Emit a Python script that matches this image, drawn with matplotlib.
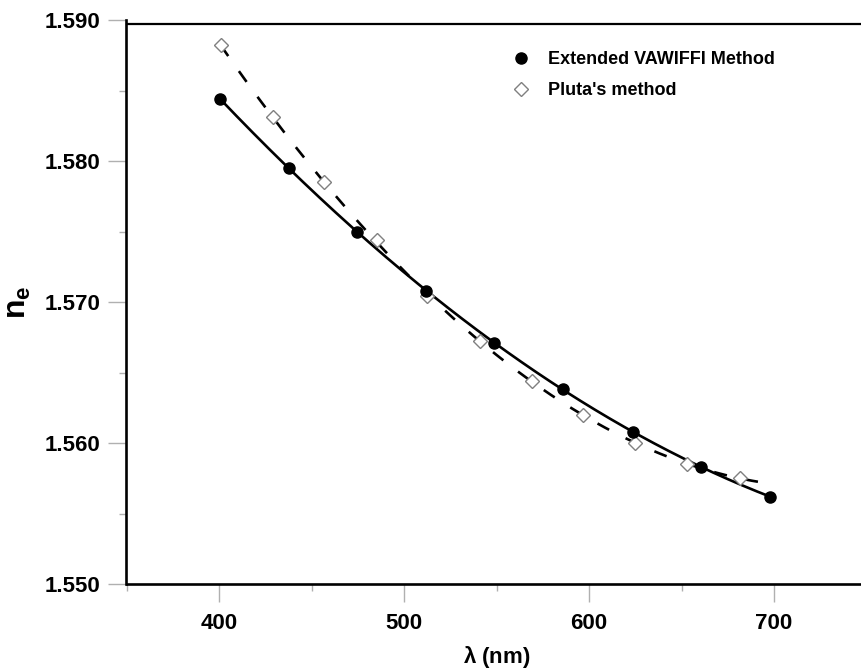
import numpy as np
import matplotlib
matplotlib.use("Agg")
import matplotlib.pyplot as plt
from matplotlib.ticker import MultipleLocator, FormatStrFormatter

plt.rcParams['font.family'] = ['Liberation Sans', 'DejaVu Sans']
plt.rcParams['font.weight'] = 'bold'
plt.rcParams['mathtext.fontset'] = 'custom'
plt.rcParams['mathtext.rm'] = 'Liberation Sans'
plt.rcParams['mathtext.bf'] = 'Liberation Sans:bold'
plt.rcParams['mathtext.it'] = 'Liberation Sans'

# Extended VAWIFFI method (filled circles)
wl_vaw = [400.5, 437.8, 474.6, 511.9, 548.6, 586.0, 623.8, 660.5, 697.8]
ne_vaw = [1.5844, 1.5795, 1.5750, 1.5708, 1.5671, 1.5638, 1.5608, 1.5583, 1.5562]

# Pluta's method (open diamonds)
wl_plu = [400.9, 429.0, 456.9, 485.2, 512.3, 541.1, 569.2, 596.9, 625.0, 653.1, 681.6]
ne_plu = [1.5882, 1.5831, 1.5785, 1.5744, 1.5704, 1.5672, 1.5644, 1.5620, 1.5600, 1.5585, 1.5575]

labels = ["Extended VAWIFFI Method", "Pluta's method"]
x_ticks = [400, 500, 600, 700]
y_ticks = [1.550, 1.560, 1.570, 1.580, 1.590]

W, H = 862, 671
fig = plt.figure(figsize=(W / 100, H / 100), dpi=100)
left, right, top, bottom = 126.5, 866.5, 20, 584
ax = fig.add_axes([left / W, 1 - bottom / H, (right - left) / W, (bottom - top) / H])
ax.set_xlim(350, 750)
ax.set_ylim(1.550, 1.590)

# fitted curves
wv = np.array(wl_vaw); nv = np.array(ne_vaw)
cv = np.polyfit(wv, nv, 3)
xs = np.linspace(wv.min(), wv.max(), 300)
ax.plot(xs, np.polyval(cv, xs), color='black', lw=1.9, zorder=2)

wp = np.array(wl_plu); npl = np.array(ne_plu)
cp = np.polyfit(wp, npl, 3)
xs2 = np.linspace(wp.min(), 694, 300)
ax.plot(xs2, np.polyval(cp, xs2), color='black', lw=1.9, dashes=(5.0, 7.0), zorder=2)

ax.plot(wl_vaw, ne_vaw, 'o', color='black', ms=8, label=labels[0], zorder=4)
ax.plot(wl_plu, ne_plu, 'D', mfc='white', mec='#808080', mew=1.0, ms=7,
        label=labels[1], zorder=3)

# spines
for s in ['left', 'bottom']:
    ax.spines[s].set_linewidth(1.9)
ax.spines['top'].set_linewidth(1.6)
ax.spines['top'].set_position(('axes', 1 - 4 / 564))
ax.spines['right'].set_visible(False)

ax.xaxis.set_major_locator(plt.FixedLocator(x_ticks))
ax.xaxis.set_minor_locator(MultipleLocator(50))
ax.yaxis.set_major_locator(plt.FixedLocator(y_ticks))
ax.yaxis.set_minor_locator(MultipleLocator(0.005))
ax.yaxis.set_major_formatter(FormatStrFormatter('%.3f'))
ax.tick_params(which='major', length=13, width=1.0, color='#b0b0b0', direction='out',
               labelsize=16, pad=6)
ax.tick_params(which='minor', length=5, width=1.0, color='#b0b0b0', direction='out')
ax.tick_params(axis='x', which='major', pad=8)
ax.tick_params(top=False, right=False, which='both')
for lab in ax.get_xticklabels() + ax.get_yticklabels():
    lab.set_fontweight('bold')

ax.set_ylabel(r'$\mathbf{n}_\mathbf{e}$', fontsize=23)
ax.yaxis.set_label_coords((18 - left) / (right - left), 0.5)
ax.yaxis.label.set_verticalalignment('center')
ax.set_xlabel(r'$\lambda$ (nm)', fontsize=16, fontweight='bold')
ax.xaxis.set_label_coords(0.5, -(657 - bottom) / (bottom - top))
ax.xaxis.label.set_verticalalignment('center')

leg = ax.legend(loc='upper left', bbox_to_anchor=(512 / W, 1 - 51 / H),
                bbox_transform=fig.transFigure, frameon=False, fontsize=13,
                handlelength=1.0, handletextpad=1.0, labelspacing=0.8,
                borderpad=0, borderaxespad=0, numpoints=1)
for t in leg.get_texts():
    t.set_fontweight('bold')

fig.savefig('out.png', dpi=100)
